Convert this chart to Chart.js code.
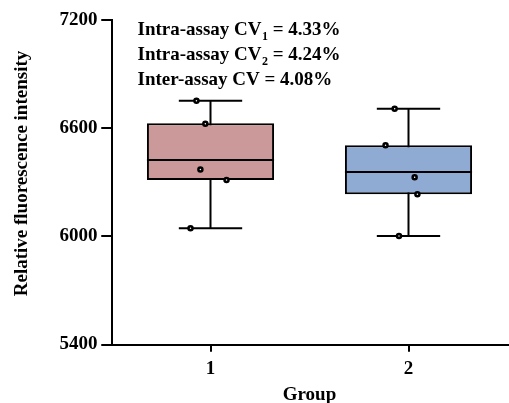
<!DOCTYPE html>
<html>
<head>
<meta charset="utf-8">
<script src="https://cdn.jsdelivr.net/npm/chart.js@4/dist/chart.umd.min.js"></script>
<style>
  html, body { margin: 0; padding: 0; background: #fff; overflow: hidden; }
  body { width: 509px; height: 403px; }
  canvas { display: block; }
</style>
</head>
<body>
<canvas id="chart" width="514" height="403"></canvas>
<script>
// values
const groups = [1, 2];
const whiskerLow = [6045, 6002];
const q1 = [6312, 6233];
const median = [6423, 6357];
const q3 = [6627, 6505];
const whiskerHigh = [6752, 6708];

// raw points (x = jittered group position)
const group1X = [0.929, 0.974, 0.949, 1.081, 0.899];
const group1Y = [6752, 6625, 6371, 6312, 6045];
const group2X = [1.930, 1.884, 2.031, 2.045, 1.952];
const group2Y = [6708, 6505, 6328, 6233, 6002];

const yTicks = [5400, 6000, 6600, 7200];
const cvLines = [
  { label: "Intra-assay CV", sub: "1", value: " = 4.33%" },
  { label: "Intra-assay CV", sub: "2", value: " = 4.24%" },
  { label: "Inter-assay CV", sub: "", value: " = 4.08%" }
];
const yTitle = "Relative fluorescence intensity";

const boxColors = ["#CC999A", "#8FAAD3"];
const FONT = "'Liberation Serif', 'Times New Roman', serif";
const boxPct = 0.642;        // box width as share of group spacing
const half = boxPct / 2;
const capHalf = 0.16;
const X_TICK = 7, Y_TICK = 10;

// build segment lists (null breaks the line)
const seg = (arr) => arr.flatMap(s => [s[0], s[1], { x: s[0].x, y: null }]);

const whiskerData = seg(groups.map((g, i) => [{ x: g, y: whiskerLow[i] }, { x: g, y: whiskerHigh[i] }]));
const capData = seg([
  ...groups.map((g, i) => [{ x: g - capHalf, y: whiskerLow[i] }, { x: g + capHalf, y: whiskerLow[i] }]),
  ...groups.map((g, i) => [{ x: g - capHalf, y: whiskerHigh[i] }, { x: g + capHalf, y: whiskerHigh[i] }])
]);
const medianData = seg(groups.map((g, i) => [{ x: g - half, y: median[i] }, { x: g + half, y: median[i] }]));
const pointData = [
  ...group1X.map((x, i) => ({ x, y: group1Y[i] })),
  ...group2X.map((x, i) => ({ x, y: group2Y[i] }))
];

const segLine = {
  type: "line", borderColor: "#000", borderWidth: 2, pointRadius: 0,
  spanGaps: false, tension: 0, fill: false
};

// CV text, y title (sits a bit above centre) and the outward tick marks
const extraText = {
  id: "extraText",
  afterDraw(chart) {
    const ctx = chart.ctx;
    const { x: xs, y: ys } = chart.scales;
    const area = chart.chartArea;
    ctx.save();

    ctx.strokeStyle = "#000";
    ctx.lineWidth = 2;
    ctx.beginPath();
    groups.forEach(g => {
      const px = Math.round(xs.getPixelForValue(g));
      ctx.moveTo(px, area.bottom);
      ctx.lineTo(px, area.bottom + X_TICK);
    });
    yTicks.forEach(v => {
      const py = Math.round(ys.getPixelForValue(v));
      ctx.moveTo(area.left - Y_TICK, py);
      ctx.lineTo(area.left, py);
    });
    ctx.stroke();

    ctx.fillStyle = "#000";
    ctx.textBaseline = "alphabetic";
    cvLines.forEach((l, i) => {
      const y = 34.5 + i * 25;
      let x = 137.5;
      ctx.font = "bold 19px " + FONT;
      ctx.fillText(l.label, x, y);
      x += ctx.measureText(l.label).width;
      if (l.sub) {
        ctx.font = "bold 12px " + FONT;
        ctx.fillText(l.sub, x + 0.5, y + 5.5);
        x += ctx.measureText(l.sub).width + 0.5;
      }
      ctx.font = "bold 19px " + FONT;
      ctx.fillText(l.value, x, y);
    });

    ctx.translate(22, 173.5);
    ctx.rotate(-Math.PI / 2);
    ctx.font = "bold 19px " + FONT;
    ctx.textAlign = "center";
    ctx.textBaseline = "middle";
    ctx.fillText(yTitle, 0, 0);
    ctx.restore();
  }
};

new Chart(document.getElementById("chart"), {
  type: "bar",
  data: {
    datasets: [
      {
        type: "scatter", data: pointData, order: 0,
        pointRadius: 2, pointBorderWidth: 2.5,
        pointBackgroundColor: "#fff", pointBorderColor: "#000"
      },
      { ...segLine, data: medianData, order: 1 },
      {
        type: "bar", order: 2,
        data: groups.map((g, i) => ({ x: g, y: [q1[i], q3[i]] })),
        backgroundColor: boxColors, borderColor: "#000", borderWidth: 2,
        borderSkipped: false, barPercentage: boxPct, categoryPercentage: 1
      },
      { ...segLine, data: capData, order: 3 },
      { ...segLine, data: whiskerData, order: 4 }
    ]
  },
  options: {
    responsive: false,
    animation: false,
    devicePixelRatio: 1,
    layout: { padding: { top: 20, right: 0, bottom: 0, left: 0 } },
    plugins: { legend: { display: false }, tooltip: { enabled: false } },
    scales: {
      x: {
        type: "linear", min: 0.5, max: 2.5, offset: false,
        afterBuildTicks: (s) => { s.ticks = groups.map(v => ({ value: v })); },
        afterFit: (s) => { s.height = 58.5; },
        border: { display: true, color: "#000", width: 2 },
        grid: { offset: false, drawOnChartArea: false, drawTicks: true, tickLength: X_TICK, color: "#000", lineWidth: 2 },
        ticks: { color: "#000", padding: 6, font: { family: FONT, size: 19, weight: "bold" } },
        title: {
          display: true, text: "Group", color: "#000",
          font: { family: FONT, size: 19, weight: "bold" }, padding: { top: 0, bottom: -3 }
        }
      },
      y: {
        min: 5400, max: 7200,
        afterBuildTicks: (s) => { s.ticks = yTicks.map(v => ({ value: v })); },
        afterFit: (s) => { s.width = 111.5; },
        border: { display: true, color: "#000", width: 2 },
        grid: { drawOnChartArea: false, drawTicks: true, tickLength: Y_TICK, color: "#000", lineWidth: 2 },
        ticks: {
          color: "#000", padding: 4, font: { family: FONT, size: 19, weight: "bold" },
          callback: (v) => String(v)
        },
        title: { display: false }
      }
    }
  },
  plugins: [extraText]
});
</script>
</body>
</html>
